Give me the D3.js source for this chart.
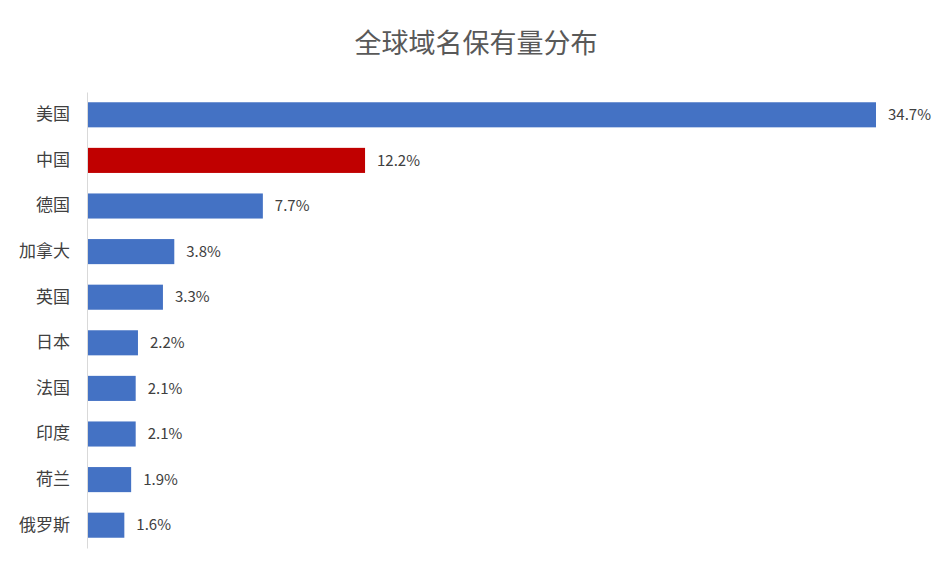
<!DOCTYPE html>
<html><head><meta charset="utf-8">
<script src="https://cdn.jsdelivr.net/npm/d3@7"></script>
<style>body{margin:0;background:#fff;font-family:"Noto Sans CJK SC","Noto Sans",sans-serif;}</style>
</head><body><div class="chart"></div>
<script>
var countries = ["美国","中国","德国","加拿大","英国","日本","法国","印度","荷兰","俄罗斯"];
var shares = [34.7,12.2,7.7,3.8,3.3,2.2,2.1,2.1,1.9,1.6];
var highlight = "中国";

var width = 952, height = 572;
var svg = d3.select(".chart").append("svg").attr("width", width).attr("height", height);

svg.append("text").attr("x", 476).attr("y", 53).attr("text-anchor", "middle")
  .style("font-size", "27px").style("fill", "#595959").text("全球域名保有量分布");

var x = d3.scaleLinear().domain([0, 34.7]).range([88, 876]);
var y = d3.scaleBand().domain(countries).range([92, 548]).paddingInner(0.45).paddingOuter(0.225);

svg.selectAll(".bar").data(countries).enter().append("rect")
  .attr("x", x(0)).attr("y", function(d){ return y(d); })
  .attr("width", function(d,i){ return x(shares[i]) - x(0); })
  .attr("height", y.bandwidth())
  .attr("fill", function(d){ return d === highlight ? "#c00000" : "#4472c4"; });

svg.selectAll(".val").data(countries).enter().append("text")
  .attr("x", function(d,i){ return x(shares[i]) + 12; })
  .attr("y", function(d){ return y(d) + y.bandwidth()/2; })
  .attr("dy", "0.35em").style("font-size", "15px").style("fill", "#404040")
  .text(function(d,i){ return shares[i].toFixed(1) + "%"; });

var axis = svg.append("g").attr("transform", "translate(87,0)")
  .call(d3.axisLeft(y).tickSize(0).tickPadding(17));
axis.select(".domain").attr("stroke", "#d9d9d9");
axis.selectAll("text").style("font-size", "17px").style("fill", "#404040")
  .style("font-family", "'Noto Sans CJK SC'");
</script></body></html>
